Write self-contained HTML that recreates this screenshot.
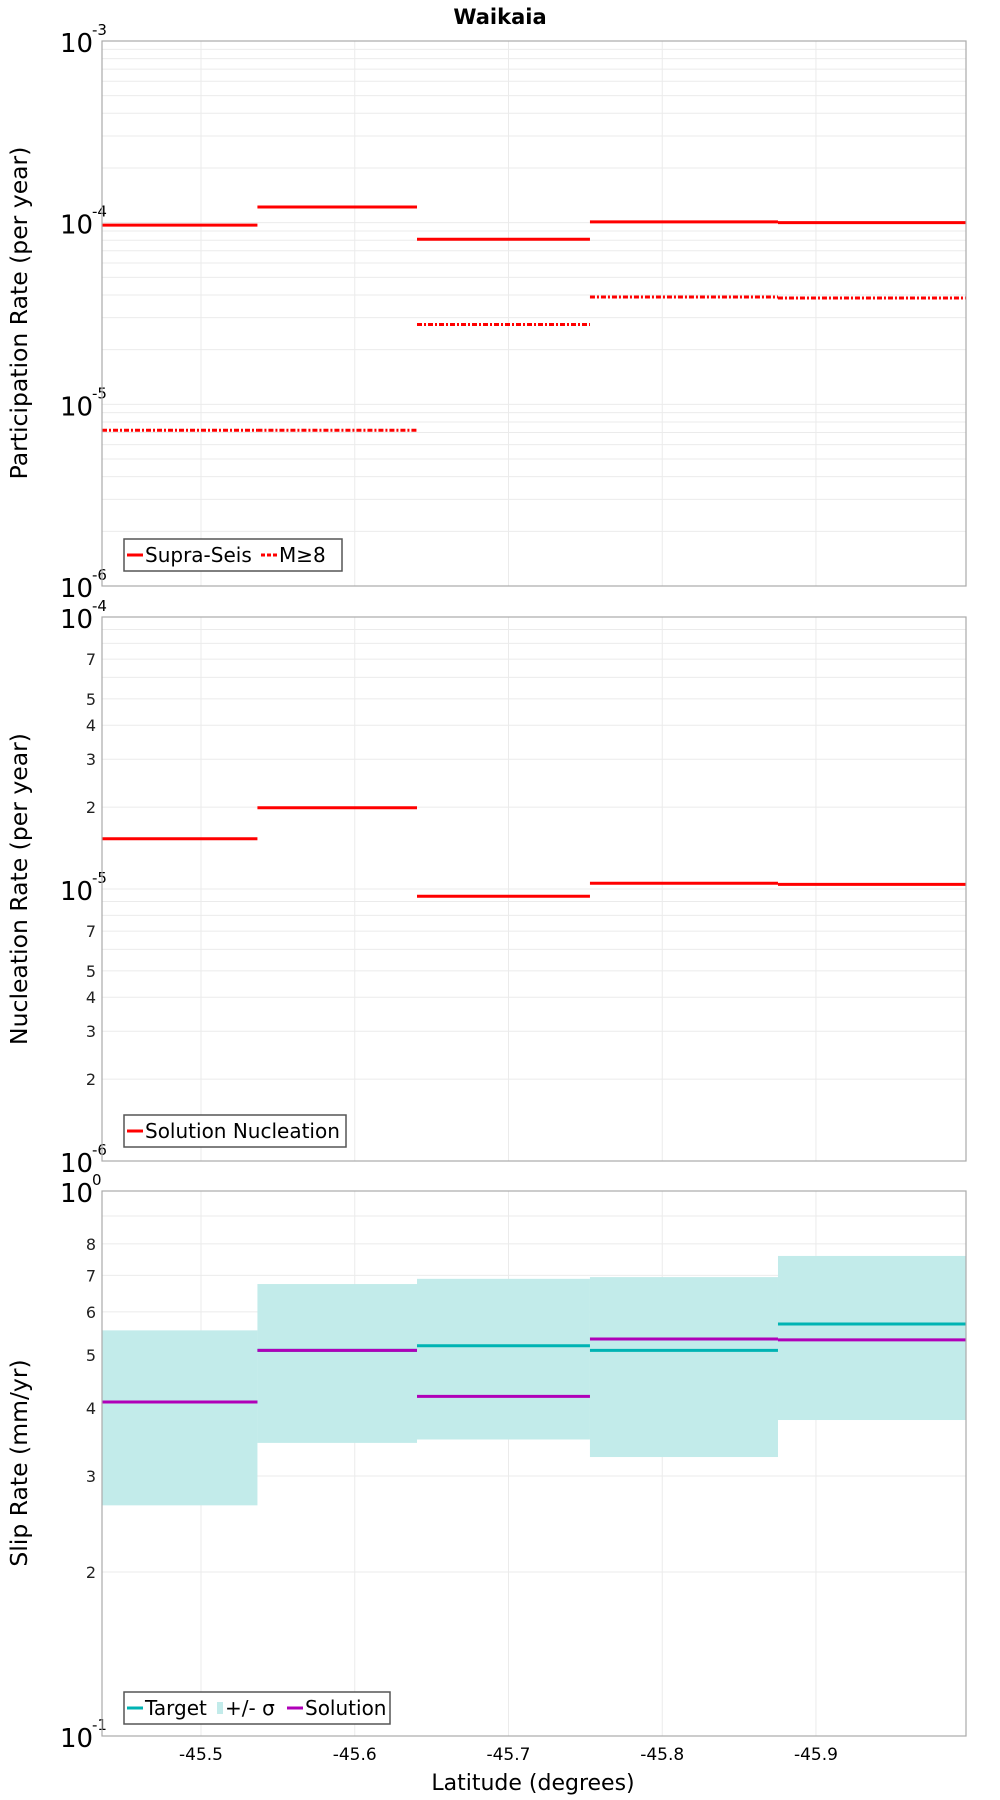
<!DOCTYPE html>
<html><head><meta charset="utf-8"><style>
body{margin:0;background:#fff}
svg{display:block;font-family:"DejaVu Sans","Liberation Sans",sans-serif}
</style></head><body>
<svg id="c" width="1000" height="1800" viewBox="0 0 1000 1800" xmlns="http://www.w3.org/2000/svg">
<text x="500" y="24" text-anchor="middle" font-size="21" font-weight="bold">Waikaia</text>
<text x="533" y="1790" text-anchor="middle" font-size="22">Latitude (degrees)</text>
</svg>
<script>
// ---- data ----
const binEdges = [-45.4356, -45.5367, -45.6405, -45.753, -45.8753, -45.9976];
const xTicks = [-45.5, -45.6, -45.7, -45.8, -45.9];
const supraSeis = [9.7e-5, 1.22e-4, 8.1e-5, 1.01e-4, 1.0e-4];
const m8 = [7.2e-6, 7.2e-6, 2.75e-5, 3.9e-5, 3.85e-5];
const nucleation = [1.53e-5, 1.99e-5, 9.4e-6, 1.05e-5, 1.04e-5];
const target = [0.41, 0.51, 0.52, 0.51, 0.57];
const solution = [0.41, 0.51, 0.42, 0.535, 0.533];
const sigmaLo = [0.265, 0.345, 0.35, 0.325, 0.38];
const sigmaHi = [0.555, 0.675, 0.69, 0.695, 0.76];

const svg = document.getElementById('c');
const NS = 'http://www.w3.org/2000/svg';
function mk(tag, attrs, parent) {
  const e = document.createElementNS(NS, tag);
  for (const k in attrs) e.setAttribute(k, attrs[k]);
  (parent || svg).appendChild(e);
  return e;
}
const L = 102, R = 966;
function xs(lat) { return L + (binEdges[0] - lat) / (binEdges[0] - binEdges[binEdges.length-1]) * (R - L); }

const panels = [
  {top: 41, bot: 586, lo: -6, hi: -3, minorLabels: [], name: 'participation'},
  {top: 617, bot: 1161, lo: -6, hi: -4, minorLabels: [2,3,4,5,7], name: 'nucleation'},
  {top: 1191, bot: 1736, lo: -1, hi: 0, minorLabels: [2,3,4,5,6,7,8], name: 'slip'}
];
function ysFn(p) { return v => p.bot - (Math.log10(v) - p.lo) / (p.hi - p.lo) * (p.bot - p.top); }

panels.forEach(p => {
  const ys = ysFn(p);
  const g = mk('g', {});
  
  
  for (let d = p.lo; d < p.hi; d++) {
    for (let m = 2; m <= 9; m++) {
      const y = ys(m * Math.pow(10, d));
      const gl = mk('line', {x1: L, x2: R, y1: y, y2: y, stroke: '#ebebeb', 'stroke-width': 1}, g);
      
      
      if (p.minorLabels.indexOf(m) >= 0) {
        const t = mk('text', {x: 96, y: y + 6, 'text-anchor': 'end', 'font-size': 16, fill: '#222'}, g);
        t.textContent = m;
        
        
      }
    }
  }
  for (let d = p.lo; d <= p.hi; d++) {
    const y = ys(Math.pow(10, d));
    if (d > p.lo && d < p.hi) {
      const gl = mk('line', {x1: L, x2: R, y1: y, y2: y, stroke: '#ebebeb', 'stroke-width': 1}, g);
      
      
    }
    const t = mk('text', {x: 60, y: y + 11, 'font-size': 26, fill: '#000'}, g);
    t.textContent = '10';
    
    
    const s = mk('text', {x: 92, y: y - 6, 'font-size': 15, fill: '#000'}, g);
    s.textContent = String(d);
    
    
  }
  xTicks.forEach(v => {
    const gl = mk('line', {x1: xs(v), x2: xs(v), y1: p.top, y2: p.bot, stroke: '#ebebeb', 'stroke-width': 1}, g);
    
    
  });
  p.g = g; p.ys = ys;
});

[['Participation Rate (per year)', 313], ['Nucleation Rate (per year)', 889], ['Slip Rate (mm/yr)', 1463]].forEach((a, i) => {
  const t = mk('text', {x: 0, y: 0, 'text-anchor': 'middle', 'font-size': 23.5, transform: 'translate(27,' + a[1] + ') rotate(-90)'});
  t.textContent = a[0];
  
  
});

function seg(arr, p, color, w, dash, name) {
  arr.forEach((v, i) => {
    const y = p.ys(v);
    const a = {x1: xs(binEdges[i]), x2: xs(binEdges[i+1]), y1: y, y2: y, stroke: color, 'stroke-width': w};
    if (dash) a['stroke-dasharray'] = dash;
    const l = mk('line', a, p.g);
    
    
  });
}

const P3 = panels[2];
sigmaLo.forEach((lo, i) => {
  const y1 = P3.ys(sigmaHi[i]), y2 = P3.ys(lo);
  const r = mk('rect', {x: xs(binEdges[i]), y: y1, width: xs(binEdges[i+1]) - xs(binEdges[i]), height: y2 - y1, fill: '#c2ebea'}, P3.g);
  
  
});

seg(supraSeis, panels[0], '#ff0000', 3, null, 'supra-seis');
seg(m8, panels[0], '#ff0000', 3, '5,2,2,2', 'm8');
seg(nucleation, panels[1], '#ff0000', 3, null, 'nucleation');
seg(target, P3, '#00b3b3', 3, null, 'target');
seg(solution, P3, '#b000b8', 3, null, 'solution');

panels.forEach(p => {
  const b = mk('rect', {x: L, y: p.top, width: R - L, height: p.bot - p.top, fill: 'none', stroke: '#aaa', 'stroke-width': 1.2}, p.g);
  
  
});

xTicks.forEach(v => {
  const t = mk('text', {x: xs(v), y: 1760, 'text-anchor': 'middle', 'font-size': 17});
  t.textContent = v.toFixed(1);
  
  
});

function legend(x, y, w, items, name) {
  const g = mk('g', {});
  
  
  const r = mk('rect', {x: x, y: y, width: w, height: 32, fill: '#fff', stroke: '#555', 'stroke-width': 1.5}, g);
  
  
  let cx = x + 3;
  items.forEach(it => {
    let sw;
    if (it.band) sw = mk('rect', {x: cx, y: y + 10, width: 6, height: 12, fill: it.color}, g);
    else {
      const a = {x1: cx, x2: cx + 16, y1: y + 16, y2: y + 16, stroke: it.color, 'stroke-width': 3};
      if (it.dash) a['stroke-dasharray'] = it.dash;
      sw = mk('line', a, g);
    }
    
    
    cx += it.band ? 8 : 18;
    const t = mk('text', {x: cx, y: y + 23, 'font-size': 20}, g);
    t.textContent = it.label;
    
    
    cx += it.tw;
  });
}
legend(124, 539, 218, [{color: '#f00', label: 'Supra-Seis', tw: 116}, {color: '#f00', dash: '4,2', label: 'M≥8', tw: 44}], 'legend-participation');
legend(124, 1115, 222, [{color: '#f00', label: 'Solution Nucleation', tw: 200}], 'legend-nucleation');
legend(124, 1692, 266, [{color: '#00b3b3', label: 'Target', tw: 72}, {color: '#c2ebea', band: true, label: '+/- σ', tw: 62}, {color: '#b000b8', label: 'Solution', tw: 90}], 'legend-slip');
</script>
</body></html>
